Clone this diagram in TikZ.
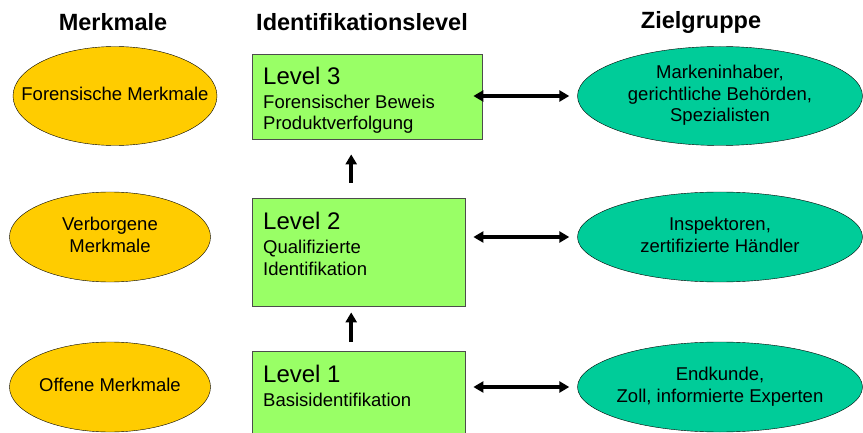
\documentclass[tikz,border=0pt]{standalone}
\usepackage{fontspec}
\setmainfont{Liberation Sans}
\usetikzlibrary{shapes.geometric,arrows.meta,positioning}

\definecolor{merkgelb}{RGB}{255,204,0}
\definecolor{levelgruen}{RGB}{153,255,102}
\definecolor{zielgruen}{RGB}{0,204,153}

\newcommand{\normtext}{\fontsize{18.5}{21.5}\selectfont}
\newcommand{\levelfont}{\fontsize{24}{26}\selectfont}
\newcommand{\zeilen}[1]{\makebox[0pt]{\begin{tabular}{@{}c@{}}#1\end{tabular}}}

\tikzset{
  kopf/.style={font=\fontsize{23.5}{28}\selectfont\bfseries, inner sep=0pt},
  merkmal/.style={ellipse, draw, thin, fill=merkgelb, minimum width=201pt,
    minimum height=90pt, inner sep=0pt, font=\normtext},
  ziel/.style={ellipse, draw, thin, fill=zielgruen, minimum width=285pt,
    minimum height=90pt, inner sep=0pt, font=\normtext},
  levelbox/.style={rectangle, draw=black!70, fill=levelgruen, anchor=north west,
    minimum width=213pt, minimum height=108pt, inner sep=0pt},
  leveltext/.style={anchor=north west, align=left, font=\normtext, inner sep=0pt},
  pfeil/.style={line width=3.5pt, -{Triangle[length=10pt,width=11pt]}},
  doppelpfeil/.style={line width=3.2pt,
    {Triangle[length=10pt,width=11pt]}-{Triangle[length=10pt,width=11pt]},
    shorten <=8pt, shorten >=8pt}
}

\begin{document}
\begin{tikzpicture}[x=1pt,y=-1pt]
  \useasboundingbox (0,0) rectangle (863,433);
  \clip (0,0) rectangle (863,433);

  % Spaltenkoepfe
  \node[kopf] (merkkopf) at (113,22) {Merkmale};
  \node[kopf] (idkopf) at (362,22) {Identifikationslevel};
  \node[kopf] (zielkopf) at (701,22) {Zielgruppe};

  % Merkmale
  \node[merkmal, minimum width=204pt, minimum height=99pt] (merk3) at (115,96)
    {\zeilen{Forensische Merkmale}};
  \node[merkmal] (merk2) at (110,237) {\zeilen{Verborgene\\Merkmale}};
  \node[merkmal] (merk1) at (110,387) {\zeilen{Offene Merkmale}};

  % Identifikationslevel
  \node[levelbox, minimum width=230pt, minimum height=85pt] (lvl3) at (252,54) {};
  \node[levelbox] (lvl2) at (252,198) {};
  \node[levelbox] (lvl1) at (252,351) {};

  \node[leveltext] (lvl3txt) at (263,67)
    {{\levelfont Level 3}\\[2pt] Forensischer Beweis\\ Produktverfolgung};
  \node[leveltext] (lvl2txt) at (263,212)
    {{\levelfont Level 2}\\[2.5pt] Qualifizierte\\ Identifikation};
  \node[leveltext] (lvl1txt) at (263,365)
    {{\levelfont Level 1}\\[2.5pt] Basisidentifikation};

  % Zielgruppe
  \node[ziel, minimum height=99pt] (ziel3) at (720,96)
    {\zeilen{Markeninhaber,\\gerichtliche Behörden,\\Spezialisten}};
  \node[ziel] (ziel2) at (720,237) {\zeilen{Inspektoren,\\zertifizierte Händler}};
  \node[ziel] (ziel1) at (720,387) {\zeilen{Endkunde,\\Zoll, informierte Experten}};

  % Pfeile
  \draw[pfeil, shorten <=15pt, shorten >=15pt]
    ([xshift=-7.5pt]lvl2.north) -- ([xshift=-7.5pt]lvl2.north |- lvl3.south);
  \draw[pfeil, shorten <=9pt, shorten >=6pt]
    ([xshift=-7.5pt]lvl1.north) -- ([xshift=-7.5pt]lvl1.north |- lvl2.south);

  \draw[doppelpfeil] (ziel3.west -| lvl1.east) -- (ziel3.west);
  \draw[doppelpfeil] (ziel2.west -| lvl1.east) -- (ziel2.west);
  \draw[doppelpfeil] (ziel1.west -| lvl1.east) -- (ziel1.west);
\end{tikzpicture}
\end{document}
